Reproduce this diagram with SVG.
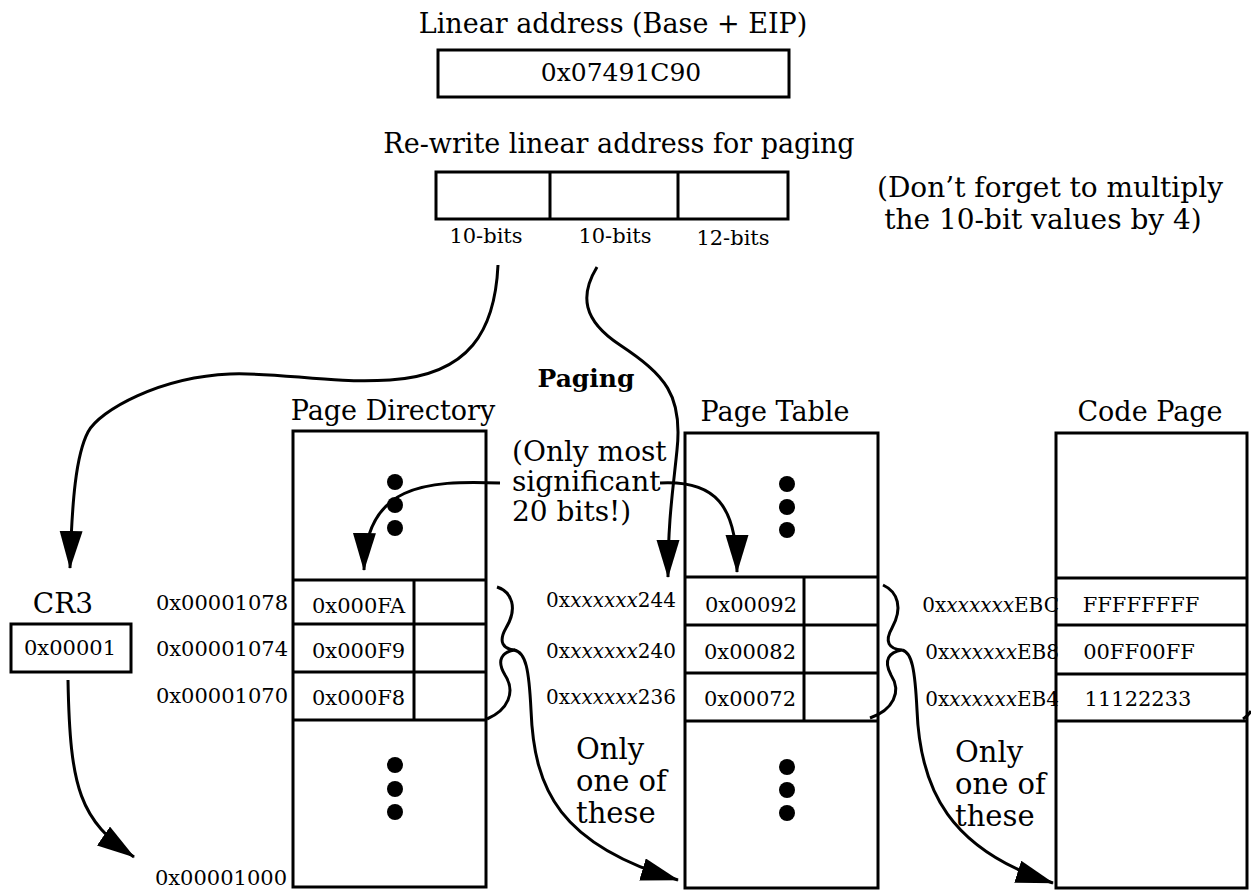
<svg xmlns="http://www.w3.org/2000/svg" width="1251" height="891" viewBox="0 0 1251 891">
<style>
text{font-family:"DejaVu Serif","Liberation Serif",serif;fill:#000}
.t27{font-size:27px}
.t28{font-size:28px}
.t21{font-size:21px}
.t20{font-size:20px}
.t29{font-size:29px}
.m{text-anchor:middle}
.e{text-anchor:end}
.box{fill:none;stroke:#000;stroke-width:3}
.ln{stroke:#000;stroke-width:3;fill:none}
.con{fill:none;stroke:#000;stroke-width:3}
.arr{marker-end:url(#ah)}
.i{font-style:italic}
</style>
<defs>
<marker id="ah" markerUnits="userSpaceOnUse" markerWidth="40" markerHeight="24" refX="37" refY="11.5" orient="auto" viewBox="0 0 40 24">
<path d="M0,0 L38,11.5 L0,23 z" fill="#000"/>
</marker>
</defs>

<g id="linear-address">
<text class="t27 m" x="613" y="33">Linear address (Base + EIP)</text>
<rect class="box" x="438" y="50" width="351" height="47"/>
<text class="m" style="font-size:25px" x="621" y="81">0x07491C90</text>
</g>

<g id="paging-split">
<text class="t27 m" x="619" y="153">Re-write linear address for paging</text>
<rect class="box" x="436" y="172" width="352" height="47"/>
<line class="ln" x1="550" y1="172" x2="550" y2="219"/>
<line class="ln" x1="678" y1="172" x2="678" y2="219"/>
<text class="t21 m" x="486" y="243">10-bits</text>
<text class="t21 m" x="615" y="243">10-bits</text>
<text class="t21 m" x="733" y="245">12-bits</text>
</g>

<g id="note">
<text class="t28 m" x="1050" y="197">(Don’t forget to multiply</text>
<text class="t28 m" x="1043" y="229">the 10-bit values by 4)</text>
</g>

<g id="paging-label">
<text class="m" style="font-size:25px;font-weight:bold" x="586" y="387">Paging</text>
</g>

<g id="cr3">
<text class="t28 m" x="63" y="613">CR3</text>
<rect class="box" x="11" y="624" width="120" height="48"/>
<text class="t21 m" x="70" y="655">0x00001</text>
</g>

<g id="page-directory">
<text class="t27 m" x="393" y="420">Page Directory</text>
<rect class="box" x="293" y="431" width="193" height="456"/>
<line class="ln" x1="293" y1="580" x2="486" y2="580"/>
<line class="ln" x1="293" y1="624" x2="486" y2="624"/>
<line class="ln" x1="293" y1="672" x2="486" y2="672"/>
<line class="ln" x1="293" y1="720" x2="486" y2="720"/>
<line class="ln" x1="414" y1="580" x2="414" y2="720"/>
<circle cx="395" cy="482" r="8"/><circle cx="395" cy="505" r="8"/><circle cx="395" cy="528" r="8"/>
<circle cx="395" cy="765" r="8"/><circle cx="395" cy="789" r="8"/><circle cx="395" cy="812" r="8"/>
<text class="t21" x="312" y="613">0x000FA</text>
<text class="t21" x="312" y="658">0x000F9</text>
<text class="t21" x="312" y="705">0x000F8</text>
<text class="t21 e" x="288" y="610">0x00001078</text>
<text class="t21 e" x="288" y="656">0x00001074</text>
<text class="t21 e" x="288" y="703">0x00001070</text>
<text class="t21 e" x="287" y="885">0x00001000</text>
</g>

<g id="page-table">
<text class="t27 m" x="775" y="421">Page Table</text>
<rect class="box" x="685" y="433" width="193" height="455"/>
<line class="ln" x1="685" y1="577" x2="878" y2="577"/>
<line class="ln" x1="685" y1="625" x2="878" y2="625"/>
<line class="ln" x1="685" y1="673" x2="878" y2="673"/>
<line class="ln" x1="685" y1="721" x2="878" y2="721"/>
<line class="ln" x1="804" y1="577" x2="804" y2="721"/>
<circle cx="787" cy="484" r="8"/><circle cx="787" cy="507" r="8"/><circle cx="787" cy="530" r="8"/>
<circle cx="787" cy="767" r="8"/><circle cx="787" cy="790" r="8"/><circle cx="787" cy="813" r="8"/>
<text class="t21 m" x="751" y="612">0x00092</text>
<text class="t21 m" x="750" y="659">0x00082</text>
<text class="t21 m" x="750" y="706">0x00072</text>
<text class="t20 e" x="676" y="607">0x<tspan class="i">xxxxxx</tspan>244</text>
<text class="t20 e" x="676" y="658">0x<tspan class="i">xxxxxx</tspan>240</text>
<text class="t20 e" x="676" y="704">0x<tspan class="i">xxxxxx</tspan>236</text>
</g>

<g id="code-page">
<text class="t27 m" x="1150" y="421">Code Page</text>
<text class="t20 e" x="1059" y="612">0x<tspan class="i">xxxxxx</tspan>EBC</text>
<text class="t20 e" x="1059" y="659">0x<tspan class="i">xxxxxx</tspan>EB8</text>
<text class="t20 e" x="1059" y="706">0x<tspan class="i">xxxxxx</tspan>EB4</text>
<rect class="box" x="1056" y="433" width="191" height="455"/>
<line class="ln" x1="1056" y1="578" x2="1247" y2="578"/>
<line class="ln" x1="1056" y1="625" x2="1247" y2="625"/>
<line class="ln" x1="1056" y1="674" x2="1247" y2="674"/>
<line class="ln" x1="1056" y1="721" x2="1247" y2="721"/>
<text class="t21 m" x="1141" y="612">FFFFFFFF</text>
<text class="t21 m" x="1139" y="659">00FF00FF</text>
<text class="t21 m" x="1138" y="706">11122233</text>
</g>

<g id="annotations">
<text class="t28" x="512" y="461">(Only most</text>
<text class="t28" x="512" y="491">significant</text>
<text class="t28" x="512" y="521">20 bits!)</text>
<text class="t29" x="576" y="759">Only</text>
<text class="t29" x="576" y="791">one of</text>
<text class="t29" x="576" y="823">these</text>
<text class="t29" x="955" y="762">Only</text>
<text class="t29" x="955" y="794">one of</text>
<text class="t29" x="955" y="826">these</text>
</g>

<g id="connectors">
<path class="con arr" d="M498,265 C495,330 470,375 390,380 C330,384 280,372 230,374 C160,377 100,410 88,432 C76,455 72,500 70,568"/>
<path class="con arr" d="M597,267 C580,295 582,320 620,345 C665,375 683,395 677,450 C673,490 668,520 668,577"/>
<path class="con arr" d="M500,483 C425,480 365,485 364,570"/>
<path class="con arr" d="M660,483 C715,480 737,505 737,572"/>
<path class="con arr" d="M68,680 C70,790 80,820 134,857"/>
<path class="con" d="M497,587 C512,592 518,608 506,628 C498,642 503,649 515,650 C502,652 496,660 505,675 C516,692 508,710 487,719"/>
<path class="con arr" d="M514,650 C526,652 529,670 531,710 C534,790 560,845 678,880"/>
<path class="con" d="M883,585 C898,592 903,608 892,628 C884,642 889,649 902,650 C889,652 883,660 891,675 C902,692 893,710 870,718"/>
<path class="con arr" d="M902,650 C912,652 915,670 917,710 C920,790 950,850 1053,883"/>
<path class="con" d="M1243,719 Q1248,716 1251,711"/>
</g>
</svg>
